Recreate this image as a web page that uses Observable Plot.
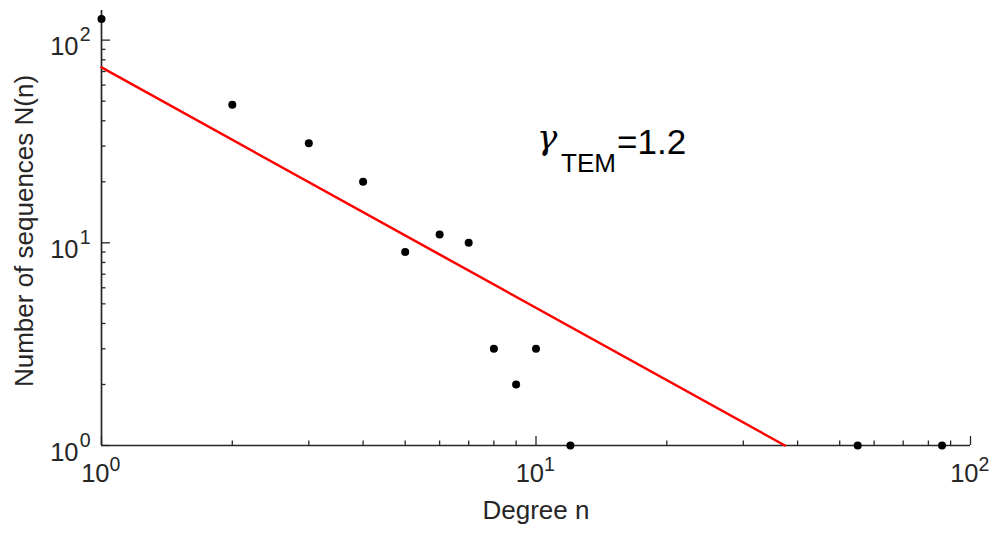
<!DOCTYPE html>
<html>
<head>
<meta charset="utf-8">
<script src="https://cdn.jsdelivr.net/npm/d3@7"></script>
<script src="https://cdn.jsdelivr.net/npm/@observablehq/plot@0.6"></script>
<style>
  html, body { margin: 0; padding: 0; background: #fff; }
  #chart { width: 1005px; height: 533px; }
</style>
</head>
<body>
<div id="chart"></div>
<script>
// Data
const degrees = [1, 2, 3, 4, 5, 6, 7, 8, 9, 10, 12, 55, 86];
const counts  = [127, 48, 31, 20, 9, 11, 10, 3, 2, 3, 1, 1, 1];

// Fitted power-law line endpoints (gamma_TEM = 1.2)
const fitDegrees = [1, 37.4];
const fitCounts  = [73.3, 1];

// Axis ticks
const xMajor = [1, 10, 100];
const xMajorExp = ["0", "1", "2"];
const xMinor = [2, 3, 4, 5, 6, 7, 8, 9, 20, 30, 40, 50, 60, 70, 80, 90];
const yMajor = [1, 10, 100];
const yMajorExp = ["0", "1", "2"];
const yMinor = [2, 3, 4, 5, 6, 7, 8, 9, 20, 30, 40, 50, 60, 70, 80, 90];

const xLabel = "Degree n";
const yLabel = "Number of sequences N(n)";

const points = degrees.map((d, i) => ({n: d, N: counts[i]}));
const fit = fitDegrees.map((d, i) => ({n: d, N: fitCounts[i]}));

const W = 1005, H = 533;
const mL = 101, mR = 35, mT = 10, mB = 88;
const innerW = W - mL - mR, innerH = H - mT - mB;
const ink = "#262626";
const font = "'Liberation Sans', Arial, Helvetica, sans-serif";

const plot = Plot.plot({
  width: W, height: H,
  marginLeft: mL, marginRight: mR, marginTop: mT, marginBottom: mB,
  style: {fontFamily: font, background: "#fff", color: ink},
  x: {type: "log", domain: [1, 100], axis: null},
  y: {type: "log", domain: [1, 140], axis: null},
  marks: [
    // ticks (inward)
    Plot.tickX(xMajor, {x: d => d, stroke: ink, strokeWidth: 1.3, insetTop: innerH - 9}),
    Plot.tickX(xMinor, {x: d => d, stroke: ink, strokeWidth: 1.3, insetTop: innerH - 4.5}),
    Plot.tickY(yMajor, {y: d => d, stroke: ink, strokeWidth: 1.3, insetRight: innerW - 9}),
    Plot.tickY(yMinor, {y: d => d, stroke: ink, strokeWidth: 1.3, insetRight: innerW - 4.5}),
    // axis lines
    Plot.ruleX([1], {stroke: ink, strokeWidth: 1.7}),
    Plot.ruleY([1], {stroke: ink, strokeWidth: 1.7}),
    // tick labels x
    Plot.text(xMajor, {x: d => d, text: () => "10", frameAnchor: "bottom", textAnchor: "end", dx: 8, dy: 36, fontSize: 25.5, fill: ink}),
    Plot.text(xMajor, {x: d => d, text: (d, i) => xMajorExp[i], frameAnchor: "bottom", textAnchor: "start", dx: 8, dy: 25, fontSize: 19.5, fill: ink}),
    // tick labels y
    Plot.text(yMajor, {y: d => d, text: () => "10", frameAnchor: "left", textAnchor: "end", dx: -23, dy: 7, fontSize: 25.5, fill: ink}),
    Plot.text(yMajor, {y: d => d, text: (d, i) => yMajorExp[i], frameAnchor: "left", textAnchor: "end", dx: -11, dy: -5, fontSize: 19.5, fill: ink}),
    // axis titles
    Plot.text([xLabel], {text: d => d, frameAnchor: "bottom", textAnchor: "middle", dy: 73, fontSize: 26, fill: ink}),
    Plot.text([yLabel], {text: d => d, frameAnchor: "left", textAnchor: "middle", rotate: -90, dx: -77, dy: 3, fontSize: 26, fill: ink}),
    // fit line
    Plot.line(fit, {x: "n", y: "N", stroke: "#ff0000", strokeWidth: 2.5}),
    // data points
    Plot.dot(points, {x: "n", y: "N", r: 4, fill: "#000", stroke: "none"})
  ]
});

document.getElementById("chart").appendChild(plot);

// Annotation  γ_TEM = 1.2
const svg = d3.select(plot);
const ann = svg.append("g").attr("fill", "#000").attr("text-anchor", "start");
ann.append("text").attr("x", 537).attr("y", 149)
  .attr("font-family", "'DejaVu Serif', 'Liberation Serif', serif").attr("font-style", "italic")
  .attr("font-size", 34).text("γ");
ann.append("text").attr("x", 561).attr("y", 172)
  .attr("font-family", font).attr("font-size", 26).text("TEM");
ann.append("text").attr("x", 617).attr("y", 154)
  .attr("font-family", font).attr("font-size", 35).text("=1.2");
</script>
</body>
</html>
